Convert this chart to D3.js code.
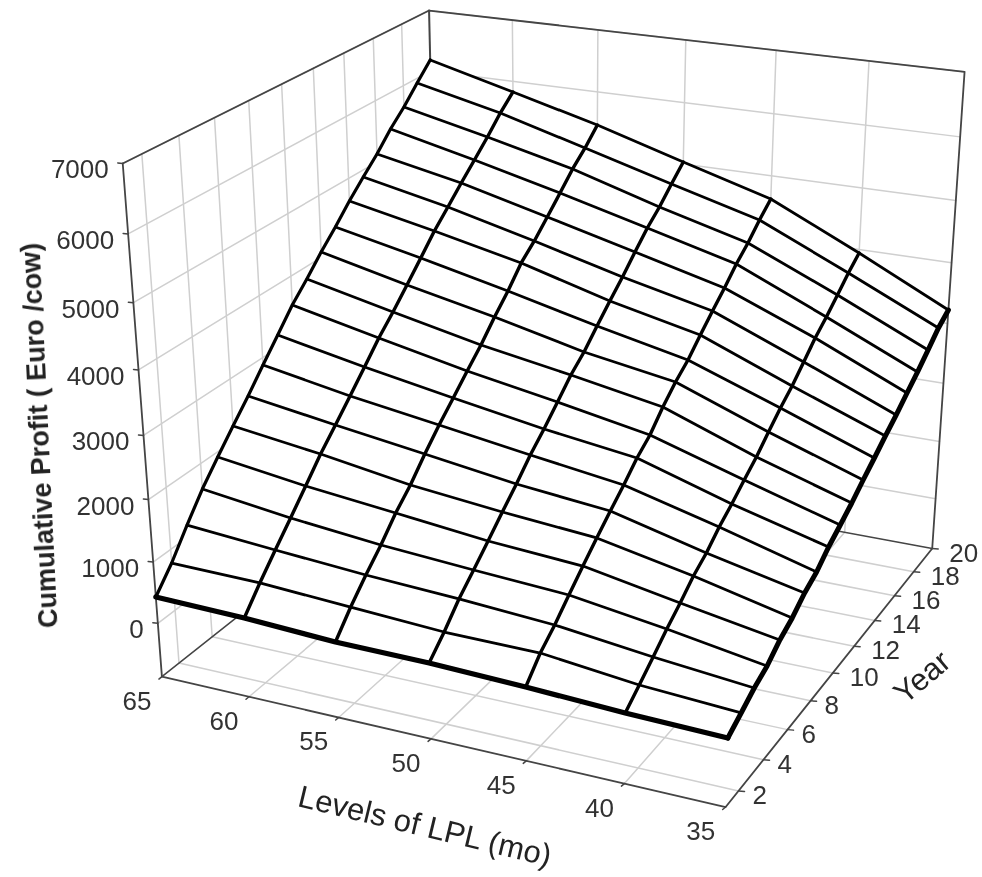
<!DOCTYPE html>
<html><head><meta charset="utf-8"><script src="https://cdnjs.cloudflare.com/ajax/libs/d3/7.8.5/d3.min.js"></script>
<style>html,body{margin:0;background:#fff}text{font-family:"Liberation Sans",Arial,sans-serif}svg{display:block}</style></head><body><svg id="c" width="982" height="877"></svg>
<script>
const lplLevels=[65,60,55,50,45,40,35];
const years=[1,2,3,4,5,6,7,8,9,10,11,12,13,14,15,16,17,18,19,20];
const profit65=[433,778,1195,1586,1917,2238,2549,2881,3203,3531,3798,4087,4349,4632,4887,5130,5412,5648,5922,6185];
const profit60=[405,757,1083,1399,1721,2049,2335,2626,2924,3226,3486,3767,4054,4346,4594,4846,5088,5334,5601,5824];
const profit55=[339,680,981,1255,1568,1823,2132,2415,2672,2934,3185,3475,3737,4038,4246,4491,4741,4997,5208,5456];
const profit50=[331,599,906,1155,1411,1673,1925,2199,2431,2685,2945,3145,3400,3643,3876,4130,4373,4572,4809,5033];
const profit45=[287,592,810,1066,1312,1550,1777,1995,2234,2416,2683,2908,3090,3326,3551,3765,4000,4192,4421,4622];
const profit40=[223,424,632,847,1037,1249,1404,1613,1780,1968,2146,2362,2568,2746,2963,3184,3362,3562,3766,3942];
const profit35=[186,332,483,595,776,900,1077,1197,1386,1534,1687,1862,2026,2196,2355,2535,2704,2895,3090,3225];
const profitByLevel=[profit65,profit60,profit55,profit50,profit45,profit40,profit35];
const zTicks=[0,1000,2000,3000,4000,5000,6000,7000];
const yearTicks=[2,4,6,8,10,12,14,16,18,20];
const lplTicks=[65,60,55,50,45,40,35];
const zDomain=[-890,7000];
const yearDomain=[1,20];
const lplDomain=[65,35];
// Camera: homogeneous projection of the unit data cube onto the page
const cam=[[501.036,356.354,-50.035,161.911],[60.704,-137.472,-527.606,676.577],[-0.086414,0.179836,-0.088548,1]];

const U=d3.scaleLinear().domain(lplDomain).range([0,1]);
const V=d3.scaleLinear().domain(yearDomain).range([0,1]);
const W=d3.scaleLinear().domain(zDomain).range([0,1]);
const P=(l,y,z)=>{const a=U(l),b=V(y),c=W(z),h=r=>r[0]*a+r[1]*b+r[2]*c+r[3],w=h(cam[2]);return [h(cam[0])/w,h(cam[1])/w];};
const zLo=zDomain[0],zHi=zDomain[1],yLo=yearDomain[0],yHi=yearDomain[1],lLo=lplDomain[0],lHi=lplDomain[1];

const svg=d3.select('#c');
const defs=svg.append('defs');
defs.append('filter').attr('id','soft').attr('x','-5%').attr('y','-5%').attr('width','110%').attr('height','110%').append('feGaussianBlur').attr('stdDeviation',0.45);
const root=svg.append('g').attr('filter','url(#soft)');
const line=d3.line();
const ln=(pts,col,w)=>root.append('path').attr('d',line(pts)).attr('fill','none').attr('stroke',col).attr('stroke-width',w).attr('stroke-linejoin','round').attr('stroke-linecap','round');
const GRID='#cfcfcf',AX='#444';

// walls and floor
zTicks.forEach(z=>ln([P(lLo,yLo,z),P(lLo,yHi,z),P(lHi,yHi,z)],GRID,1.5));
yearTicks.filter(y=>y<yHi).forEach(y=>{ln([P(lLo,y,zLo),P(lLo,y,zHi)],GRID,1.5);ln([P(lLo,y,zLo),P(lHi,y,zLo)],GRID,1.5);});
lplTicks.filter(l=>l!==lLo&&l!==lHi).forEach(l=>ln([P(l,yLo,zLo),P(l,yHi,zLo),P(l,yHi,zHi)],GRID,1.5));
ln([P(lLo,yLo,zHi),P(lLo,yHi,zHi),P(lHi,yHi,zHi),P(lHi,yHi,zLo),P(lHi,yLo,zLo),P(lLo,yLo,zLo),P(lLo,yLo,zHi)],AX,1.8);
ln([P(lLo,yLo,zLo),P(lLo,yHi,zLo),P(lHi,yHi,zLo)],AX,1.5);
ln([P(lLo,yHi,zLo),P(lLo,yHi,zHi)],AX,2);

// surface: white cells back to front, then the mesh lines
const cellPts=(i,j)=>[[i,j],[i+1,j],[i+1,j+1],[i,j+1]].map(([a,b])=>P(lplLevels[a],years[b],profitByLevel[a][b]));
for(let j=years.length-2;j>=0;j--)for(let i=0;i<lplLevels.length-1;i++){
  root.append('path').attr('d',line(cellPts(i,j))+'Z').attr('fill','#fff').attr('stroke','#fff').attr('stroke-width',0.5);
}
years.forEach((y,j)=>ln(lplLevels.map((l,i)=>P(l,y,profitByLevel[i][j])),'#000',j===0?5.2:2.8));
lplLevels.forEach((l,i)=>ln(years.map((y,j)=>P(l,y,profitByLevel[i][j])),'#000',i===lplLevels.length-1?5:(i===0?3.2:3.4)));

// ticks and labels
const lab=(x,y,t,o={})=>root.append('text').attr('x',x).attr('y',y).attr('fill',o.c||'#333').attr('font-size',o.s||26).attr('text-anchor',o.a||'middle').attr('dominant-baseline','central').attr('font-weight',o.b||null).attr('transform',o.r?`rotate(${o.r} ${x} ${y})`:null).text(t);
zTicks.forEach(z=>{const q=P(lLo,yLo,z);lab(q[0]-14,q[1]+6,z,{a:'end'});ln([q,[q[0]-5,q[1]-.5]],AX,1.5);});
lplTicks.forEach(l=>{const q=P(l,yLo,zLo);lab(q[0]-25,q[1]+24,l);ln([q,[q[0]-3,q[1]+2.5]],AX,1.5);});
yearTicks.forEach(y=>{const q=P(lHi,y,zLo);lab(q[0]+(y<10?14:17),q[1]+4,y,{a:'start'});ln([q,[q[0]+6,q[1]+.5]],AX,1.5);});
lab(39,435.5,'Cumulative Profit ( Euro /cow)',{s:27,b:'bold',r:-92.7,c:'#222'});
lab(425,826,'Levels of LPL (mo)',{s:31,r:13.5,c:'#222'});
lab(922,677,'Year',{s:31,r:-40,c:'#222'});
</script></body></html>
